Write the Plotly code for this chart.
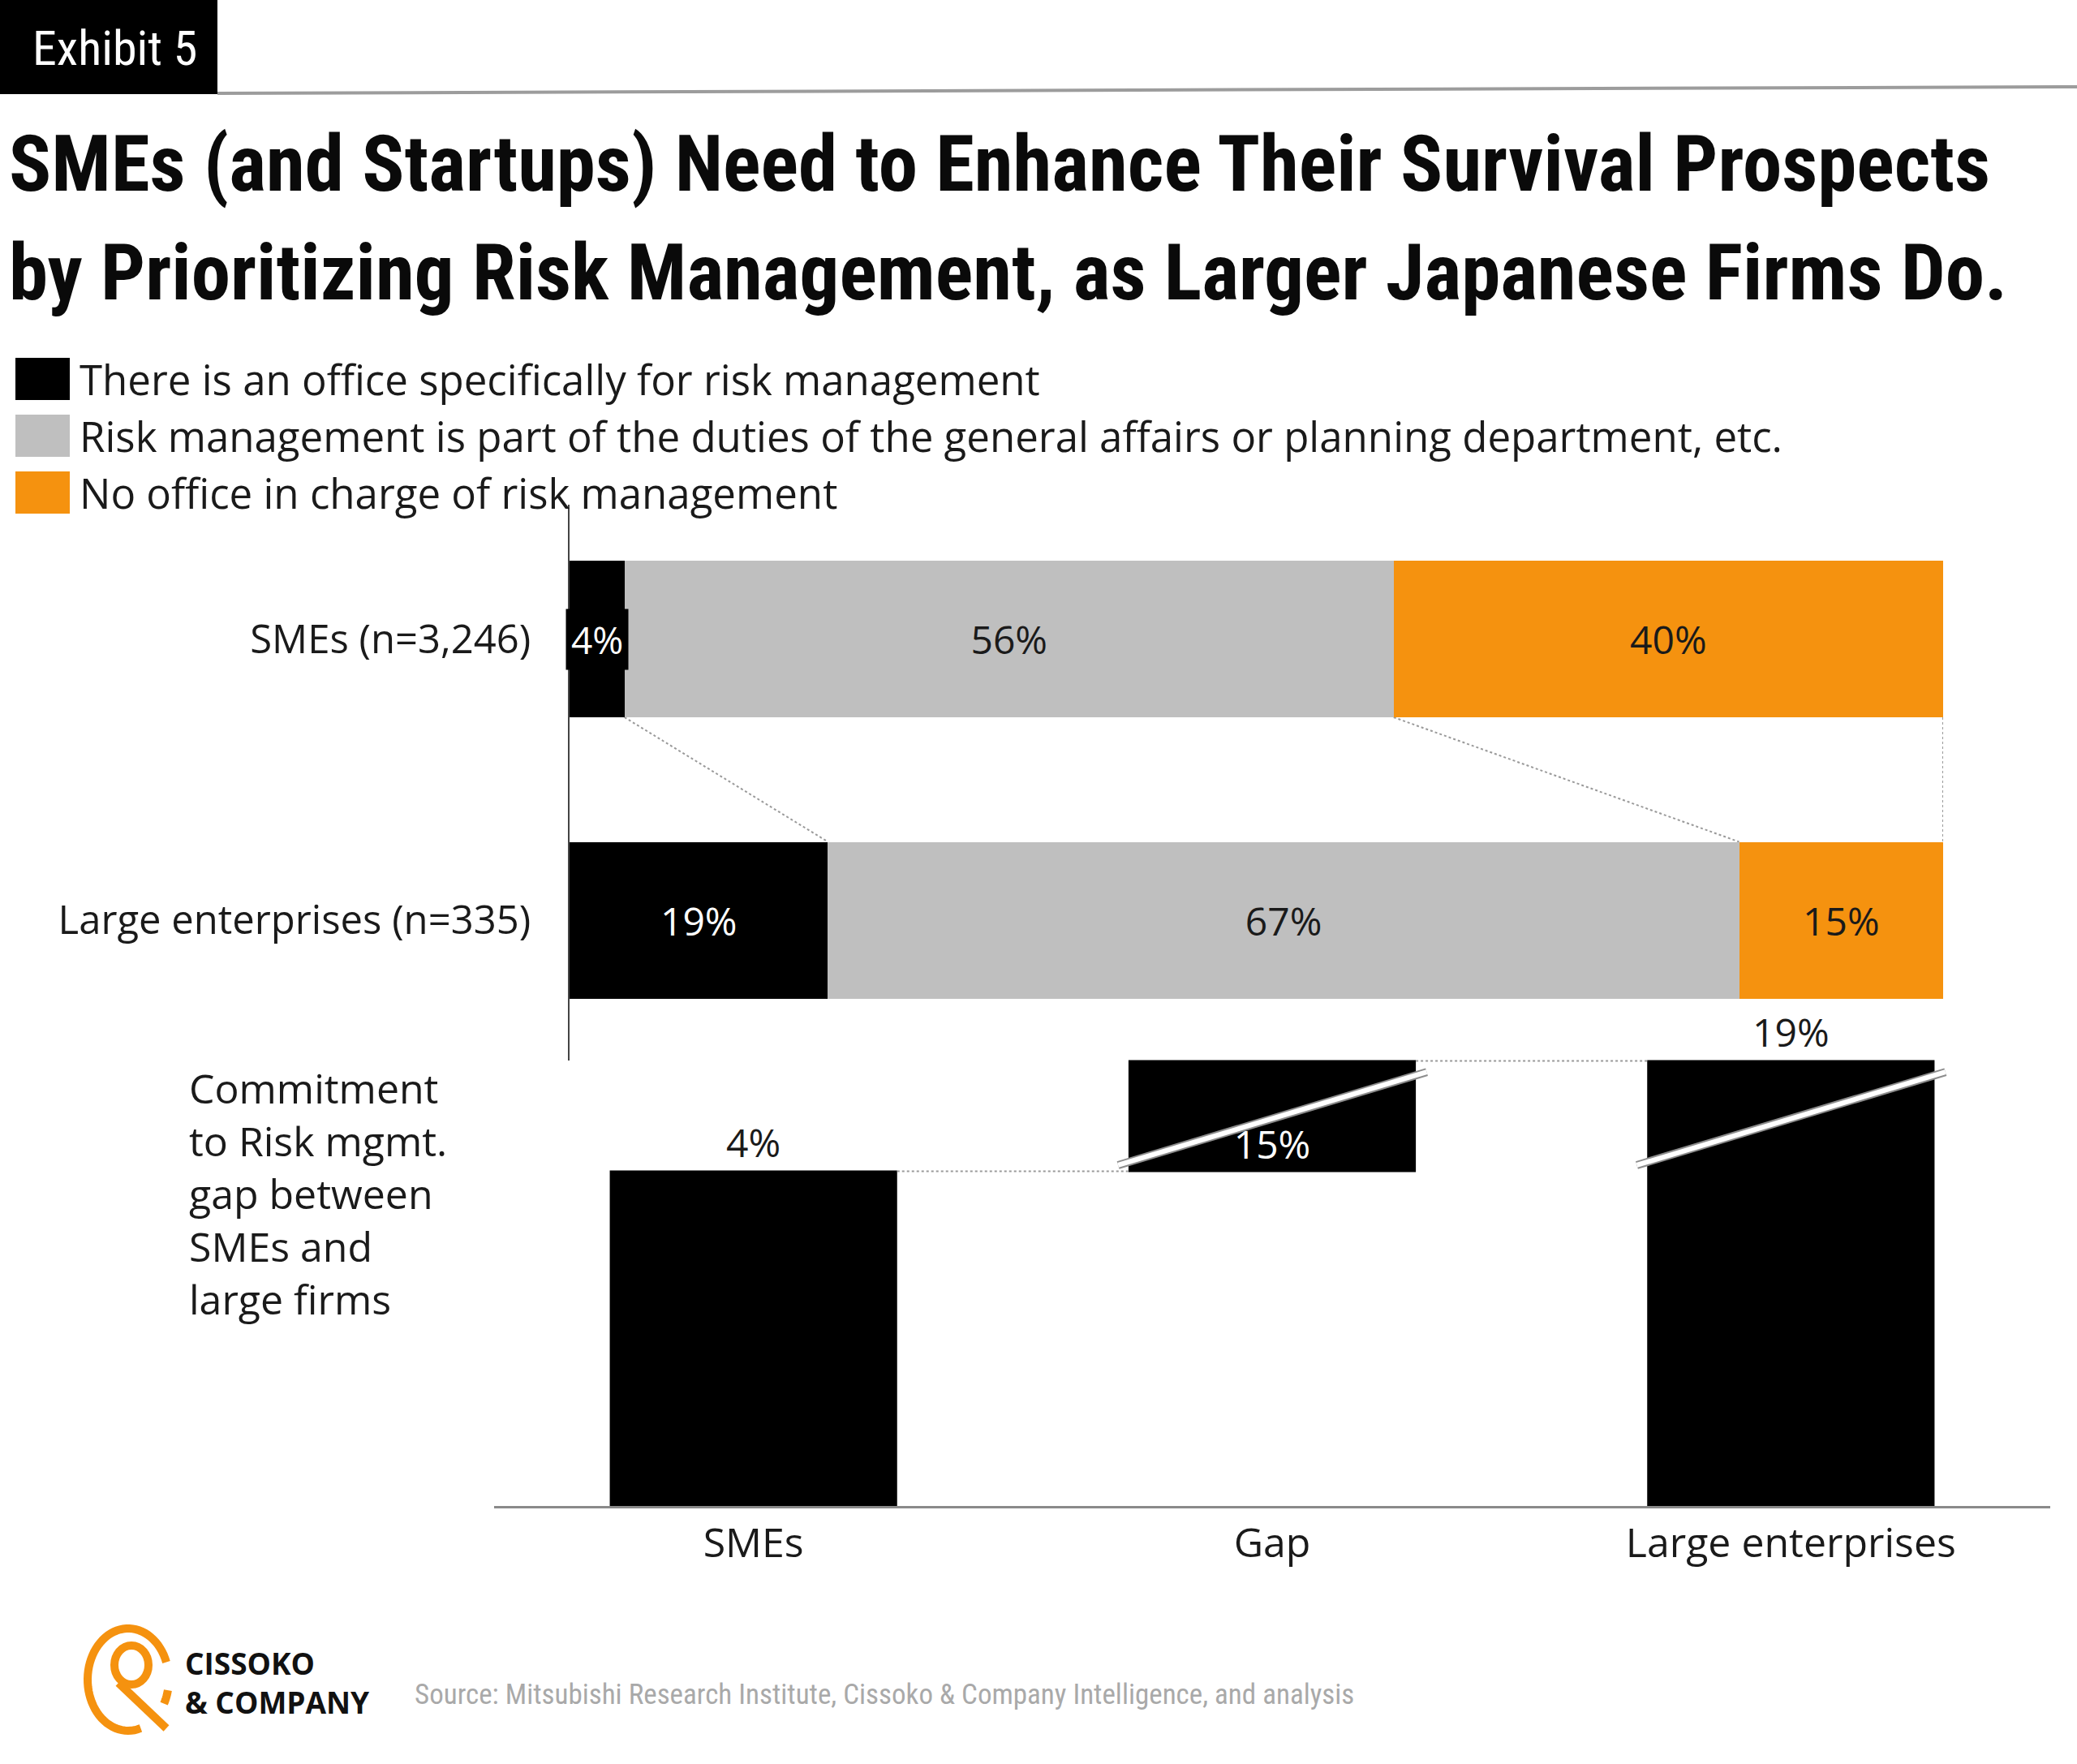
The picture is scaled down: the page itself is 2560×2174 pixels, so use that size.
import numpy as np
import plotly.graph_objects as go

# ---------------- data ----------------
groups = ["SMEs (n=3,246)", "Large enterprises (n=335)"]
series_names = [
    "There is an office specifically for risk management",
    "Risk management is part of the duties of the general affairs or planning department, etc.",
    "No office in charge of risk management",
]
dedicated_office = [4, 19]
general_affairs = [56, 67]
no_office = [40, 15]

wf_categories = ["SMEs", "Gap", "Large enterprises"]

exhibit_label = "Exhibit 5"
title_lines = [
    "SMEs (and Startups) Need to Enhance Their Survival Prospects",
    "by Prioritizing Risk Management, as Larger Japanese Firms Do.",
]
side_note_lines = ["Commitment", "to Risk mgmt.", "gap between", "SMEs and", "large firms"]
source_text = "Source: Mitsubishi Research Institute, Cissoko & Company Intelligence, and analysis"
brand_lines = ["CISSOKO", "& COMPANY"]

# ---------------- style ----------------
COLORS = ["#000000", "#BFBFBF", "#F5920F"]
BODY = "'Open Sans', Lato, sans-serif"
NARROW = "'Liberation Sans Narrow', 'Arial Narrow', 'Roboto Condensed', 'DejaVu Sans Condensed', sans-serif"
TXT = "#1a1a1a"
W, H = 2560, 2174
NUM_SIZE = 48


def px(x):
    return x / W


def py(y):
    return 1 - y / H


series = [dedicated_office, general_affairs, no_office]
totals = [sum(s[i] for s in series) for i in range(len(groups))]
norm = [[s[i] / totals[i] * 100 for i in range(len(groups))] for s in series]

fig = go.Figure()

# ---------- upper chart: stacked horizontal bars ----------
txt_colors = ["white", TXT, TXT]
annotations = []
for k, (name, vals, nvals) in enumerate(zip(series_names, series, norm)):
    texts = []
    for i, v in enumerate(vals):
        if v < 8:
            texts.append("")
            annotations.append(dict(
                x=nvals[i] / 2, y=i, xref="x", yref="y", text=f"{v}%", showarrow=False,
                font=dict(family=BODY, size=NUM_SIZE - 2, color="white"), bgcolor=COLORS[k], borderpad=6,
            ))
        else:
            texts.append(f"{v}%")
    fig.add_trace(go.Bar(
        y=list(range(len(groups))), x=nvals, orientation="h", name=name,
        marker=dict(color=COLORS[k], line=dict(width=0)),
        text=texts, textposition="inside", insidetextanchor="middle", constraintext="none",
        textfont=dict(family=BODY, size=NUM_SIZE, color=txt_colors[k]),
        xaxis="x", yaxis="y", showlegend=False, hoverinfo="skip",
    ))

# ---------- lower chart: waterfall ----------
commit_sme = dedicated_office[0]
commit_large = dedicated_office[1]
wf_vals = [commit_sme, commit_large - commit_sme, commit_large]
fig.add_trace(go.Waterfall(
    x=wf_categories, y=[wf_vals[0], wf_vals[1], None],
    measure=["absolute", "relative", "total"],
    text=[f"{v}%" for v in wf_vals],
    textposition=["outside", "inside", "outside"], insidetextanchor="start",
    textfont=dict(family=BODY, size=NUM_SIZE),
    outsidetextfont=dict(family=BODY, size=NUM_SIZE, color=TXT),
    insidetextfont=dict(family=BODY, size=NUM_SIZE, color="white"),
    increasing=dict(marker=dict(color="#000000", line=dict(width=0))),
    decreasing=dict(marker=dict(color="#000000", line=dict(width=0))),
    totals=dict(marker=dict(color="#000000", line=dict(width=0))),
    connector=dict(line=dict(color="#9a9a9a", width=2, dash="dot")),
    cliponaxis=False, xaxis="x2", yaxis="y2", showlegend=False, hoverinfo="skip",
))

shapes = []
# connectors between stacked bars
half = (1 - 0.443) / 2
cum_s = np.cumsum([n[0] for n in norm])
cum_l = np.cumsum([n[1] for n in norm])
for a, b in zip(cum_s, cum_l):
    shapes.append(dict(type="line", xref="x", yref="y", x0=a, y0=0 + half, x1=b, y1=1 - half,
                       line=dict(color="#9a9a9a", width=2, dash="dot"), layer="below"))

# axis break marks on the waterfall bars
for xc in [1, 2]:
    for col, wd in [("#8c8c8c", 10), ("white", 6)]:
        shapes.append(dict(type="line", xref="x2", yref="y2",
                           x0=xc - 0.297, x1=xc + 0.298,
                           y0=commit_sme * 1.09, y1=commit_large * 0.855,
                           line=dict(color=col, width=wd)))

# header box and rule
shapes.append(dict(type="rect", xref="paper", yref="paper", x0=0, x1=px(268), y0=py(116), y1=1,
                   fillcolor="black", line=dict(width=0)))
shapes.append(dict(type="line", xref="paper", yref="paper", x0=px(268), y0=py(115), x1=1, y1=py(107),
                   line=dict(color="#9c9c9c", width=4)))

# custom legend
leg_y = [467, 537, 607]
for k, name in enumerate(series_names):
    shapes.append(dict(type="rect", xref="paper", yref="paper", x0=px(19), x1=px(86),
                       y0=py(leg_y[k] + 26), y1=py(leg_y[k] - 26), fillcolor=COLORS[k], line=dict(width=0)))
    annotations.append(dict(x=px(96), y=py(leg_y[k]), xref="paper", yref="paper", text=name,
                            showarrow=False, xanchor="left", yanchor="middle",
                            font=dict(family=BODY, size=51, color=TXT)))

# logo (decorative)
cx, cy, rx, ry = 158, 2070, 50, 63
t = np.radians(np.linspace(20, 288, 60))
path = "M " + " L ".join(f"{px(cx + rx*np.cos(a)):.5f},{py(cy - ry*np.sin(a)):.5f}" for a in t)
shapes.append(dict(type="path", xref="paper", yref="paper", path=path, line=dict(color="#F5920F", width=10)))
t2 = np.radians(np.linspace(-12, -28, 8))
path2 = "M " + " L ".join(f"{px(cx + rx*np.cos(a)):.5f},{py(cy - ry*np.sin(a)):.5f}" for a in t2)
shapes.append(dict(type="path", xref="paper", yref="paper", path=path2, line=dict(color="#F5920F", width=10)))
shapes.append(dict(type="circle", xref="paper", yref="paper", x0=px(141), x1=px(183), y0=py(2076), y1=py(2028),
                   line=dict(color="#F5920F", width=10)))
shapes.append(dict(type="line", xref="paper", yref="paper", x0=px(146), y0=py(2074), x1=px(205), y1=py(2130),
                   line=dict(color="#F5920F", width=10)))

# texts
annotations += [
    dict(x=px(38), y=py(60), xref="paper", yref="paper", text=exhibit_label, showarrow=False,
         xanchor="left", yanchor="middle", font=dict(family=NARROW, size=60, color="white")),
    dict(x=px(9), y=py(202), xref="paper", yref="paper", text=f"<b>{title_lines[0]}</b>", showarrow=False,
         xanchor="left", yanchor="middle", font=dict(family=NARROW, size=97, color="#0a0a0a")),
    dict(x=px(9), y=py(336), xref="paper", yref="paper", text=f"<b>{title_lines[1]}</b>", showarrow=False,
         xanchor="left", yanchor="middle", font=dict(family=NARROW, size=97, color="#0a0a0a")),
    dict(x=px(509), y=py(2088), xref="paper", yref="paper", text=source_text, showarrow=False,
         xanchor="left", yanchor="middle", font=dict(family=NARROW, size=35, color="#a9a9a9")),
    dict(x=px(226), y=py(2073), xref="paper", yref="paper",
         text="<br>".join(f"<b>{b}</b>" for b in brand_lines), showarrow=False, align="left",
         xanchor="left", yanchor="middle", font=dict(family=BODY, size=37, color="#111111")),
    dict(x=px(231), y=py(1471), xref="paper", yref="paper", text="<br>".join(side_note_lines),
         showarrow=False, xanchor="left", yanchor="middle", align="left",
         font=dict(family=BODY, size=50, color=TXT)),
]

log_bottom = np.log10(commit_sme) - 412.5 / 200.98
log_top = np.log10(commit_large) + 7.5 / 200.98

fig.update_layout(
    width=W, height=H, margin=dict(l=0, r=0, t=0, b=0),
    paper_bgcolor="white", plot_bgcolor="rgba(0,0,0,0)",
    barmode="stack", bargap=0.443, waterfallgap=0.446,
    hovermode=False, showlegend=False,
    xaxis=dict(domain=[px(702), px(2395)], range=[0, 100], visible=False, anchor="y"),
    yaxis=dict(domain=[py(1307), py(622)], range=[1.4993, -0.4777], anchor="x",
               tickvals=list(range(len(groups))), ticktext=groups,
               showline=True, linecolor="#444444", linewidth=2, showgrid=False, zeroline=False,
               ticks="", ticklabelstandoff=36, tickfont=dict(family=BODY, size=49, color=TXT)),
    xaxis2=dict(domain=[px(609), px(2527)], anchor="y2", showline=True, linecolor="#8a8a8a", linewidth=3,
                ticks="", showgrid=False, zeroline=False, ticklabelstandoff=0,
                tickfont=dict(family=BODY, size=50, color=TXT)),
    yaxis2=dict(domain=[py(1856), py(1300)], type="log", range=[log_bottom, log_top], visible=False,
                anchor="x2"),
    shapes=shapes, annotations=annotations,
)

fig.write_html("out.html")
